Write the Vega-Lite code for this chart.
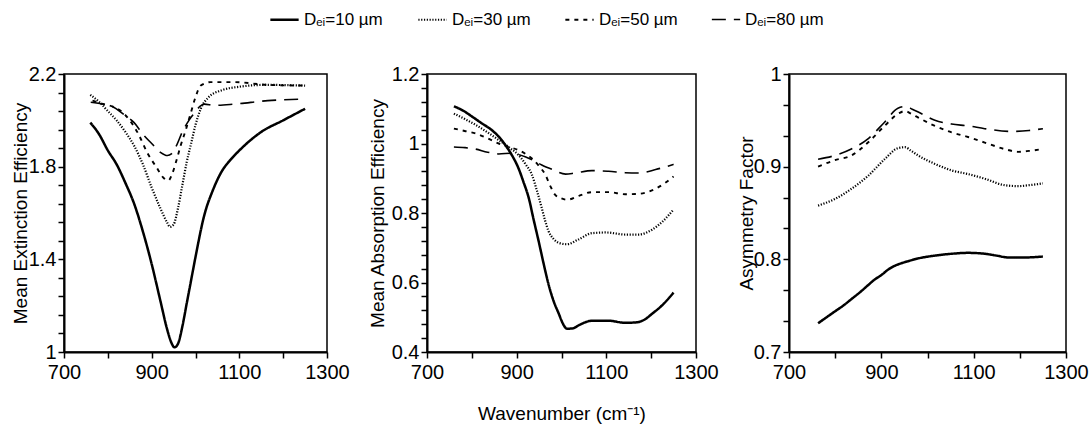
{
  "$schema": "https://vega.github.io/schema/vega-lite/v6.json",
  "padding": {"left": 10, "top": 4, "right": 2, "bottom": 5},
  "background": "white",
  "datasets": {
    "ext": [
      {"x":760,"y":1.99,"s":"10"},{"x":780,"y":1.94,"s":"10"},{"x":800,"y":1.87,"s":"10"},{"x":820,"y":1.81,"s":"10"},{"x":840,"y":1.73,"s":"10"},{"x":860,"y":1.64,"s":"10"},{"x":880,"y":1.52,"s":"10"},{"x":900,"y":1.38,"s":"10"},{"x":920,"y":1.22,"s":"10"},{"x":935,"y":1.10,"s":"10"},{"x":945,"y":1.04,"s":"10"},{"x":952,"y":1.02,"s":"10"},{"x":960,"y":1.035,"s":"10"},{"x":970,"y":1.11,"s":"10"},{"x":980,"y":1.21,"s":"10"},{"x":990,"y":1.31,"s":"10"},{"x":1000,"y":1.41,"s":"10"},{"x":1020,"y":1.59,"s":"10"},{"x":1040,"y":1.70,"s":"10"},{"x":1060,"y":1.78,"s":"10"},{"x":1080,"y":1.83,"s":"10"},{"x":1100,"y":1.87,"s":"10"},{"x":1150,"y":1.95,"s":"10"},{"x":1200,"y":2.00,"s":"10"},{"x":1250,"y":2.05,"s":"10"},
      {"x":760,"y":2.11,"s":"30"},{"x":780,"y":2.08,"s":"30"},{"x":800,"y":2.04,"s":"30"},{"x":820,"y":2.00,"s":"30"},{"x":840,"y":1.95,"s":"30"},{"x":860,"y":1.89,"s":"30"},{"x":880,"y":1.81,"s":"30"},{"x":900,"y":1.71,"s":"30"},{"x":920,"y":1.62,"s":"30"},{"x":935,"y":1.56,"s":"30"},{"x":942,"y":1.54,"s":"30"},{"x":950,"y":1.55,"s":"30"},{"x":960,"y":1.62,"s":"30"},{"x":970,"y":1.72,"s":"30"},{"x":980,"y":1.82,"s":"30"},{"x":990,"y":1.90,"s":"30"},{"x":1000,"y":1.98,"s":"30"},{"x":1012,"y":2.05,"s":"30"},{"x":1030,"y":2.10,"s":"30"},{"x":1060,"y":2.13,"s":"30"},{"x":1100,"y":2.145,"s":"30"},{"x":1160,"y":2.153,"s":"30"},{"x":1250,"y":2.15,"s":"30"},
      {"x":765,"y":2.085,"s":"50"},{"x":790,"y":2.07,"s":"50"},{"x":810,"y":2.06,"s":"50"},{"x":830,"y":2.04,"s":"50"},{"x":850,"y":2.0,"s":"50"},{"x":870,"y":1.94,"s":"50"},{"x":890,"y":1.86,"s":"50"},{"x":910,"y":1.80,"s":"50"},{"x":928,"y":1.75,"s":"50"},{"x":938,"y":1.74,"s":"50"},{"x":947,"y":1.77,"s":"50"},{"x":957,"y":1.83,"s":"50"},{"x":966,"y":1.89,"s":"50"},{"x":978,"y":1.96,"s":"50"},{"x":989,"y":2.03,"s":"50"},{"x":1000,"y":2.10,"s":"50"},{"x":1012,"y":2.15,"s":"50"},{"x":1035,"y":2.165,"s":"50"},{"x":1088,"y":2.165,"s":"50"},{"x":1165,"y":2.153,"s":"50"},{"x":1250,"y":2.15,"s":"50"},
      {"x":761,"y":2.078,"s":"80"},{"x":790,"y":2.07,"s":"80"},{"x":810,"y":2.06,"s":"80"},{"x":840,"y":2.02,"s":"80"},{"x":860,"y":1.99,"s":"80"},{"x":880,"y":1.94,"s":"80"},{"x":900,"y":1.90,"s":"80"},{"x":920,"y":1.862,"s":"80"},{"x":936,"y":1.848,"s":"80"},{"x":945,"y":1.855,"s":"80"},{"x":955,"y":1.885,"s":"80"},{"x":970,"y":1.95,"s":"80"},{"x":985,"y":2.0,"s":"80"},{"x":997,"y":2.03,"s":"80"},{"x":1010,"y":2.06,"s":"80"},{"x":1020,"y":2.07,"s":"80"},{"x":1043,"y":2.065,"s":"80"},{"x":1088,"y":2.07,"s":"80"},{"x":1165,"y":2.085,"s":"80"},{"x":1250,"y":2.092,"s":"80"}
    ],
    "abs": [
      {"x":760,"y":1.107,"s":"10"},{"x":780,"y":1.095,"s":"10"},{"x":800,"y":1.078,"s":"10"},{"x":820,"y":1.060,"s":"10"},{"x":845,"y":1.038,"s":"10"},{"x":860,"y":1.02,"s":"10"},{"x":875,"y":0.995,"s":"10"},{"x":890,"y":0.965,"s":"10"},{"x":904,"y":0.929,"s":"10"},{"x":915,"y":0.89,"s":"10"},{"x":927,"y":0.843,"s":"10"},{"x":938,"y":0.78,"s":"10"},{"x":949,"y":0.719,"s":"10"},{"x":960,"y":0.655,"s":"10"},{"x":971,"y":0.595,"s":"10"},{"x":982,"y":0.548,"s":"10"},{"x":994,"y":0.51,"s":"10"},{"x":1003,"y":0.482,"s":"10"},{"x":1012,"y":0.467,"s":"10"},{"x":1025,"y":0.468,"s":"10"},{"x":1040,"y":0.478,"s":"10"},{"x":1068,"y":0.49,"s":"10"},{"x":1105,"y":0.49,"s":"10"},{"x":1142,"y":0.484,"s":"10"},{"x":1165,"y":0.485,"s":"10"},{"x":1185,"y":0.493,"s":"10"},{"x":1202,"y":0.51,"s":"10"},{"x":1225,"y":0.535,"s":"10"},{"x":1250,"y":0.571,"s":"10"},
      {"x":760,"y":1.086,"s":"30"},{"x":785,"y":1.07,"s":"30"},{"x":808,"y":1.054,"s":"30"},{"x":835,"y":1.032,"s":"30"},{"x":860,"y":1.01,"s":"30"},{"x":885,"y":0.987,"s":"30"},{"x":904,"y":0.967,"s":"30"},{"x":920,"y":0.94,"s":"30"},{"x":934,"y":0.91,"s":"30"},{"x":945,"y":0.865,"s":"30"},{"x":956,"y":0.814,"s":"30"},{"x":963,"y":0.78,"s":"30"},{"x":971,"y":0.748,"s":"30"},{"x":982,"y":0.726,"s":"30"},{"x":994,"y":0.714,"s":"30"},{"x":1012,"y":0.71,"s":"30"},{"x":1038,"y":0.724,"s":"30"},{"x":1068,"y":0.742,"s":"30"},{"x":1100,"y":0.744,"s":"30"},{"x":1142,"y":0.738,"s":"30"},{"x":1172,"y":0.738,"s":"30"},{"x":1202,"y":0.752,"s":"30"},{"x":1225,"y":0.775,"s":"30"},{"x":1250,"y":0.81,"s":"30"},
      {"x":760,"y":1.043,"s":"50"},{"x":784,"y":1.036,"s":"50"},{"x":808,"y":1.029,"s":"50"},{"x":835,"y":1.015,"s":"50"},{"x":860,"y":1.0,"s":"50"},{"x":882,"y":0.99,"s":"50"},{"x":904,"y":0.981,"s":"50"},{"x":920,"y":0.97,"s":"50"},{"x":934,"y":0.957,"s":"50"},{"x":950,"y":0.935,"s":"50"},{"x":964,"y":0.91,"s":"50"},{"x":976,"y":0.875,"s":"50"},{"x":986,"y":0.852,"s":"50"},{"x":1000,"y":0.842,"s":"50"},{"x":1012,"y":0.838,"s":"50"},{"x":1040,"y":0.85,"s":"50"},{"x":1068,"y":0.86,"s":"50"},{"x":1105,"y":0.86,"s":"50"},{"x":1142,"y":0.854,"s":"50"},{"x":1172,"y":0.855,"s":"50"},{"x":1210,"y":0.87,"s":"50"},{"x":1250,"y":0.905,"s":"50"},
      {"x":760,"y":0.99,"s":"80"},{"x":785,"y":0.988,"s":"80"},{"x":808,"y":0.984,"s":"80"},{"x":835,"y":0.975,"s":"80"},{"x":860,"y":0.97,"s":"80"},{"x":889,"y":0.972,"s":"80"},{"x":905,"y":0.968,"s":"80"},{"x":919,"y":0.962,"s":"80"},{"x":935,"y":0.953,"s":"80"},{"x":956,"y":0.938,"s":"80"},{"x":980,"y":0.925,"s":"80"},{"x":1009,"y":0.912,"s":"80"},{"x":1030,"y":0.915,"s":"80"},{"x":1068,"y":0.922,"s":"80"},{"x":1105,"y":0.92,"s":"80"},{"x":1142,"y":0.916,"s":"80"},{"x":1172,"y":0.915,"s":"80"},{"x":1210,"y":0.925,"s":"80"},{"x":1250,"y":0.94,"s":"80"}
    ],
    "asy": [
      {"x":763,"y":0.731,"s":"10"},{"x":780,"y":0.737,"s":"10"},{"x":800,"y":0.744,"s":"10"},{"x":820,"y":0.751,"s":"10"},{"x":835,"y":0.757,"s":"10"},{"x":855,"y":0.765,"s":"10"},{"x":871,"y":0.772,"s":"10"},{"x":885,"y":0.778,"s":"10"},{"x":900,"y":0.783,"s":"10"},{"x":915,"y":0.789,"s":"10"},{"x":929,"y":0.793,"s":"10"},{"x":945,"y":0.796,"s":"10"},{"x":958,"y":0.798,"s":"10"},{"x":980,"y":0.801,"s":"10"},{"x":1016,"y":0.804,"s":"10"},{"x":1052,"y":0.806,"s":"10"},{"x":1088,"y":0.807,"s":"10"},{"x":1124,"y":0.806,"s":"10"},{"x":1150,"y":0.804,"s":"10"},{"x":1175,"y":0.802,"s":"10"},{"x":1210,"y":0.802,"s":"10"},{"x":1250,"y":0.803,"s":"10"},
      {"x":763,"y":0.858,"s":"30"},{"x":799,"y":0.865,"s":"30"},{"x":835,"y":0.876,"s":"30"},{"x":871,"y":0.89,"s":"30"},{"x":907,"y":0.908,"s":"30"},{"x":936,"y":0.92,"s":"30"},{"x":951,"y":0.921,"s":"30"},{"x":965,"y":0.917,"s":"30"},{"x":980,"y":0.912,"s":"30"},{"x":1016,"y":0.903,"s":"30"},{"x":1052,"y":0.896,"s":"30"},{"x":1088,"y":0.892,"s":"30"},{"x":1124,"y":0.887,"s":"30"},{"x":1167,"y":0.88,"s":"30"},{"x":1196,"y":0.879,"s":"30"},{"x":1220,"y":0.88,"s":"30"},{"x":1250,"y":0.882,"s":"30"},
      {"x":763,"y":0.9,"s":"50"},{"x":799,"y":0.907,"s":"50"},{"x":835,"y":0.912,"s":"50"},{"x":871,"y":0.926,"s":"50"},{"x":907,"y":0.944,"s":"50"},{"x":936,"y":0.957,"s":"50"},{"x":951,"y":0.96,"s":"50"},{"x":965,"y":0.957,"s":"50"},{"x":980,"y":0.953,"s":"50"},{"x":1016,"y":0.944,"s":"50"},{"x":1052,"y":0.937,"s":"50"},{"x":1088,"y":0.932,"s":"50"},{"x":1124,"y":0.926,"s":"50"},{"x":1167,"y":0.919,"s":"50"},{"x":1196,"y":0.916,"s":"50"},{"x":1220,"y":0.917,"s":"50"},{"x":1250,"y":0.919,"s":"50"},
      {"x":763,"y":0.908,"s":"80"},{"x":799,"y":0.912,"s":"80"},{"x":835,"y":0.919,"s":"80"},{"x":871,"y":0.93,"s":"80"},{"x":907,"y":0.948,"s":"80"},{"x":936,"y":0.963,"s":"80"},{"x":954,"y":0.965,"s":"80"},{"x":967,"y":0.962,"s":"80"},{"x":980,"y":0.959,"s":"80"},{"x":1016,"y":0.95,"s":"80"},{"x":1052,"y":0.946,"s":"80"},{"x":1088,"y":0.944,"s":"80"},{"x":1124,"y":0.941,"s":"80"},{"x":1181,"y":0.938,"s":"80"},{"x":1220,"y":0.939,"s":"80"},{"x":1250,"y":0.941,"s":"80"}
    ]
  },
  "hconcat": [
    {
      "width": 263, "height": 278,
      "data": {"name": "ext"},
      "mark": {"type": "line", "interpolate": "monotone", "color": "black"},
      "encoding": {
        "x": {"field": "x", "type": "quantitative", "scale": {"domain": [700, 1300], "nice": false, "zero": false},
          "axis": {"title": null, "values": [700,800,900,1000,1100,1200,1300], "labelExpr": "datum.value % 200 == 100 ? format(datum.value, 'd') : ''"}},
        "y": {"field": "y", "type": "quantitative", "scale": {"domain": [1, 2.2], "nice": false, "zero": false},
          "axis": {"title": "Mean Extinction Efficiency", "titlePadding": -2, "values": [1,1.08,1.16,1.24,1.32,1.4,1.48,1.56,1.64,1.72,1.8,1.88,1.96,2.04,2.12,2.2],
            "labelExpr": "abs((datum.value-1)/0.4 - round((datum.value-1)/0.4)) < 0.01 ? format(datum.value, '~g') : ''"}},
        "strokeDash": {"field": "s", "type": "nominal", "scale": {"domain": ["10","30","50","80"], "range": [[1,0],[1.2,1.6],[4,5],[14,8]]},
          "legend": {"orient": "none", "legendX": 205, "legendY": -70, "direction": "horizontal", "title": null, "labelExpr": "'Dₑᵢ=' + datum.label + ' µm'"}},
        "strokeWidth": {"field": "s", "type": "nominal", "scale": {"domain": ["10","30","50","80"], "range": [2.5,1.6,3,1.5]},
          "legend": {"orient": "none", "legendX": 205, "legendY": -70, "direction": "horizontal", "title": null, "labelExpr": "'Dₑᵢ=' + datum.label + ' µm'"}}
      }
    },
    {
      "width": 269, "height": 278,
      "data": {"name": "abs"},
      "mark": {"type": "line", "interpolate": "monotone", "color": "black"},
      "encoding": {
        "x": {"field": "x", "type": "quantitative", "scale": {"domain": [700, 1300], "nice": false, "zero": false},
          "axis": {"title": "Wavenumber (cm⁻¹)", "titlePadding": 22, "values": [700,800,900,1000,1100,1200,1300], "labelExpr": "datum.value % 200 == 100 ? format(datum.value, 'd') : ''"}},
        "y": {"field": "y", "type": "quantitative", "scale": {"domain": [0.4, 1.2], "nice": false, "zero": false},
          "axis": {"title": "Mean Absorption Efficiency", "titlePadding": 4, "values": [0.4,0.44,0.48,0.52,0.56,0.6,0.64,0.68,0.72,0.76,0.8,0.84,0.88,0.92,0.96,1,1.04,1.08,1.12,1.16,1.2],
            "labelExpr": "abs((datum.value-0.4)/0.2 - round((datum.value-0.4)/0.2)) < 0.01 ? format(datum.value, '~g') : ''"}},
        "strokeDash": {"field": "s", "type": "nominal", "scale": {"domain": ["10","30","50","80"], "range": [[1,0],[1.2,1.6],[4,5],[14,8]]}},
        "strokeWidth": {"field": "s", "type": "nominal", "scale": {"domain": ["10","30","50","80"], "range": [2.5,1.6,3,1.5]}}
      }
    },
    {
      "width": 277, "height": 278,
      "data": {"name": "asy"},
      "mark": {"type": "line", "interpolate": "monotone", "color": "black"},
      "encoding": {
        "x": {"field": "x", "type": "quantitative", "scale": {"domain": [700, 1300], "nice": false, "zero": false},
          "axis": {"title": null, "values": [700,800,900,1000,1100,1200,1300], "labelExpr": "datum.value % 200 == 100 ? format(datum.value, 'd') : ''"}},
        "y": {"field": "y", "type": "quantitative", "scale": {"domain": [0.7, 1.0], "nice": false, "zero": false},
          "axis": {"title": "Asymmetry Factor", "titlePadding": -3, "values": [0.7,0.73333,0.76667,0.8,0.83333,0.86667,0.9,0.93333,0.96667,1],
            "labelExpr": "abs(datum.value*10 - round(datum.value*10)) < 0.01 ? format(datum.value, '~g') : ''"}},
        "strokeDash": {"field": "s", "type": "nominal", "scale": {"domain": ["10","30","50","80"], "range": [[1,0],[1.2,1.6],[4,5],[14,8]]}},
        "strokeWidth": {"field": "s", "type": "nominal", "scale": {"domain": ["10","30","50","80"], "range": [2.5,1.6,3,1.5]}}
      }
    }
  ],
  "spacing": 17,
  "config": {
    "font": "Liberation Sans",
    "view": {"stroke": "black", "strokeWidth": 1.5},
    "axis": {"grid": false, "domainColor": "black", "domainWidth": 2, "ticks": true, "tickColor": "black", "tickWidth": 1.5, "tickSize": 6,
      "labelColor": "black", "labelFontSize": 20, "labelPadding": 2, "labelFont": "Liberation Sans", "labelFlush": false, "labelOverlap": false,
      "titleColor": "black", "titleFontSize": 19, "titleFontWeight": "normal", "titleFont": "Liberation Sans"},
    "axisX": {"labelPadding": 4},
    "axisY": {"titlePadding": 2},
    "legend": {"symbolType": "stroke", "symbolSize": 800, "symbolStrokeColor": "black",
      "labelFontSize": 17, "labelColor": "black", "labelFont": "Liberation Sans", "columnPadding": 30}
  }
}
